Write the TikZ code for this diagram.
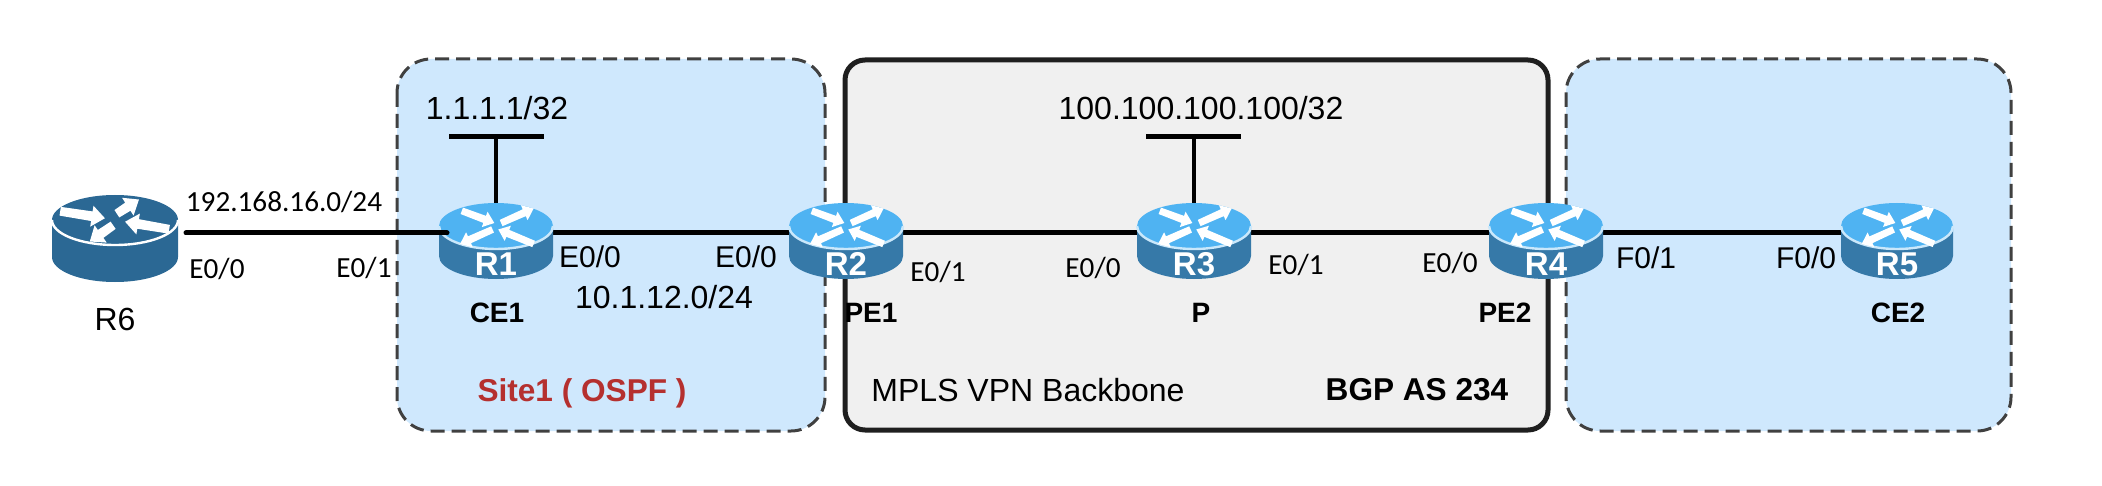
\documentclass[tikz,border=0pt]{standalone}
\usepackage{fontspec}
\setmainfont{Liberation Sans}
\newfontfamily\calibrilike{Carlito}
\definecolor{siteblue}{HTML}{CFE8FD}
\definecolor{coregray}{HTML}{F0F0F0}
\definecolor{topblue}{HTML}{4FB3F2}
\definecolor{sideblue}{HTML}{3679A8}
\definecolor{darkrouter}{HTML}{2B6894}
\definecolor{sitered}{HTML}{B5302F}
\tikzset{
  x=0.5pt,y=-0.5pt,
  sitebox/.style={fill=siteblue,draw=black!75,line width=1.5pt,dash pattern=on 7pt off 3.5pt,rounded corners=17pt},
  corebox/.style={fill=coregray,draw=black!88,line width=2.5pt,rounded corners=10pt},
  wire/.style={draw=black,line width=2.5pt},
  wirecap/.style={wire,line cap=round},
  stem/.style={draw=black,line width=2.2pt},
  anchorbox/.style={inner sep=0pt,outer sep=0pt,draw=none},
  arial/.style={font=\fontsize{16}{18}\selectfont,inner sep=0pt},
  iface/.style={font=\fontsize{15}{17}\selectfont,inner sep=0pt},
  port/.style={font=\calibrilike\fontsize{14.6}{17}\selectfont,inner sep=0pt},
  caption/.style={font=\fontsize{14}{16}\selectfont\bfseries,inner sep=0pt},
  areacaption/.style={font=\fontsize{15.8}{18}\selectfont\bfseries,inner sep=0pt},
  badge/.style={font=\fontsize{16.5}{18}\selectfont\bfseries,text=white,inner sep=0pt},
}
% One white tapered arrow on a router's top face. Ends are fractions of the radii.
\newcommand{\faceArrow}[4]{%
  \pgfmathsetmacro{\ax}{#1*\rrx}\pgfmathsetmacro{\ay}{#2*\rry}%
  \pgfmathsetmacro{\bx}{#3*\rrx}\pgfmathsetmacro{\by}{#4*\rry}%
  \pgfmathsetmacro{\dx}{\bx-\ax}\pgfmathsetmacro{\dy}{\by-\ay}%
  \pgfmathsetmacro{\len}{veclen(\dx,\dy)}%
  \pgfmathsetmacro{\ux}{\dx/\len}\pgfmathsetmacro{\uy}{\dy/\len}%
  \pgfmathsetmacro{\wd}{\rrx*\arrowWd}%
  \pgfmathsetmacro{\nk}{\len-\wd*1.5}%
  \fill[white] (\ax-\uy*\wd*.5,\ay+\ux*\wd*.5) -- (\ax+\uy*\wd*.5,\ay-\ux*\wd*.5)
    -- (\ax+\ux*\nk+\uy*\wd*.55,\ay+\uy*\nk-\ux*\wd*.55)
    -- (\ax+\ux*\nk+\uy*\wd*1.2,\ay+\uy*\nk-\ux*\wd*1.2)
    -- (\bx,\by)
    -- (\ax+\ux*\nk-\uy*\wd*1.2,\ay+\uy*\nk+\ux*\wd*1.2)
    -- (\ax+\ux*\nk-\uy*\wd*.55,\ay+\uy*\nk+\ux*\wd*.55) -- cycle;%
}
% Arrow layouts for the two router icons
\newcommand{\darkArrows}{%
  \def\arrowWd{0.14}%
  \faceArrow{-.87}{-.35}{-.16}{-.07}\faceArrow{.03}{-.25}{.38}{-.82}%
  \faceArrow{.86}{.37}{.16}{.07}\faceArrow{-.03}{.21}{-.4}{.86}}
\newcommand{\blueArrows}{%
  \def\arrowWd{0.12}%
  \faceArrow{-.6}{-.66}{-.03}{-.13}\faceArrow{.09}{-.13}{.66}{-.76}%
  \faceArrow{.66}{.78}{.04}{.15}\faceArrow{-.06}{.15}{-.63}{.78}}
% Router drum: #1 centre x, #2 centre y of top face, #3 rx, #4 ry, #5 body height, #6 top, #7 side, #8 rim, #9 arrows
\newcommand{\routerDrum}[9]{%
  \begin{scope}[shift={(#1,#2)}]
    \def\rrx{#3}\def\rry{#4}%
    \fill[#7] (-#3,0) -- (-#3,#5) arc[start angle=180,end angle=0,x radius=#3,y radius=#4] -- (#3,0) -- cycle;
    \fill[#6] (0,0) ellipse[x radius=#3,y radius=#4];
    \draw[#8,line width=1.2pt] (-#3,0) arc[start angle=180,end angle=0,x radius=#3,y radius=#4];
    #9
  \end{scope}%
}
\begin{document}
\begin{tikzpicture}
\useasboundingbox (0,0) rectangle (2102,486);
% Shaded areas
\path[sitebox] (397,59) rectangle (825,431);
\path[corebox] (845,60) rectangle (1548,430);
\path[sitebox] (1566,59) rectangle (2011,431);

% Router outlines used as connection points
\node[anchorbox,minimum width=63pt,minimum height=36pt] (r6) at (115,233) {};
\node[anchorbox,minimum width=57pt,minimum height=30pt] (r1) at (496,233) {};
\node[anchorbox,minimum width=57pt,minimum height=30pt] (r2) at (846,233) {};
\node[anchorbox,minimum width=57pt,minimum height=30pt] (r3) at (1194,233) {};
\node[anchorbox,minimum width=57pt,minimum height=30pt] (r4) at (1546,233) {};
\node[anchorbox,minimum width=56pt,minimum height=30pt] (r5) at (1897,233) {};

% Links between routers
\draw[wire] (r1.east) -- (r2.west);
\draw[wire] (r2.east) -- (r3.west);
\draw[wire] (r3.east) -- (r4.west);
\draw[wire] (r4.east) -- (r5.west);

% Loopback stubs
\coordinate (loopA) at (496,137);
\coordinate (loopAl) at (449,137);
\coordinate (loopAr) at (544,137);
\coordinate (loopB) at (1194,137);
\coordinate (loopBl) at (1146,137);
\coordinate (loopBr) at (1241,137);
\draw[stem] (r1.north) -- (loopA);
\draw[stem] (r3.north) -- (loopB);
\draw[wire] (loopAl) -- (loopAr);
\draw[wire] (loopBl) -- (loopBr);

% Routers
\routerDrum{115}{220}{63}{25}{37}{darkrouter}{darkrouter}{white}{\darkArrows}
\routerDrum{496}{226}{57}{23}{30}{topblue}{sideblue}{white!70!topblue}{\blueArrows}
\routerDrum{846}{226}{57}{23}{30}{topblue}{sideblue}{white!70!topblue}{\blueArrows}
\routerDrum{1194}{226}{57}{23}{30}{topblue}{sideblue}{white!70!topblue}{\blueArrows}
\routerDrum{1546}{226}{57}{23}{30}{topblue}{sideblue}{white!70!topblue}{\blueArrows}
\routerDrum{1897}{226}{56}{23}{30}{topblue}{sideblue}{white!70!topblue}{\blueArrows}

% Link from R6 runs onto the top of R1
\coordinate (r6end) at ([xshift=4pt]r6.east);
\coordinate (r1end) at ([xshift=4pt]r1.west);
\draw[wirecap] (r6end) -- (r1end);

% Router names
\node[badge] (n1) at (496,264) {R1};
\node[badge] (n2) at (846,264) {R2};
\node[badge] (n3) at (1194,264) {R3};
\node[badge] (n4) at (1546,264) {R4};
\node[badge] (n5) at (1897,264) {R5};

% Roles
\node[arial] (l6) at (115,319) {R6};
\node[caption] (c1) at (497,313) {CE1};
\node[caption] (c2) at (871,313) {PE1};
\node[caption] (c3) at (1201,313) {P};
\node[caption] (c4) at (1505,313) {PE2};
\node[caption] (c5) at (1898,313) {CE2};

% Addresses
\node[arial] (a1) at (497,108) {1.1.1.1/32};
\node[arial] (a2) at (1201,108) {100.100.100.100/32};
\node[port] (a3) at (284,202) {192.168.16.0/24};
\node[arial] (a4) at (664,297) {10.1.12.0/24};

% Interface names
\node[port] (p1) at (217,269) {E0/0};
\node[port] (p2) at (364,268) {E0/1};
\node[iface] (p3) at (590,257) {E0/0};
\node[iface] (p4) at (746,257) {E0/0};
\node[port] (p5) at (938,272) {E0/1};
\node[port] (p6) at (1093,268) {E0/0};
\node[port] (p7) at (1296,265) {E0/1};
\node[port] (p8) at (1450,263) {E0/0};
\node[iface] (p9) at (1646,258) {F0/1};
\node[iface] (p10) at (1806,258) {F0/0};

% Area captions
\node[areacaption,text=sitered] (s1) at (582,393) {Site1 ( OSPF )};
\node[arial] (s2) at (1028,390) {MPLS VPN Backbone};
\node[areacaption] (s3) at (1417,390) {BGP AS 234};
\end{tikzpicture}
\end{document}
